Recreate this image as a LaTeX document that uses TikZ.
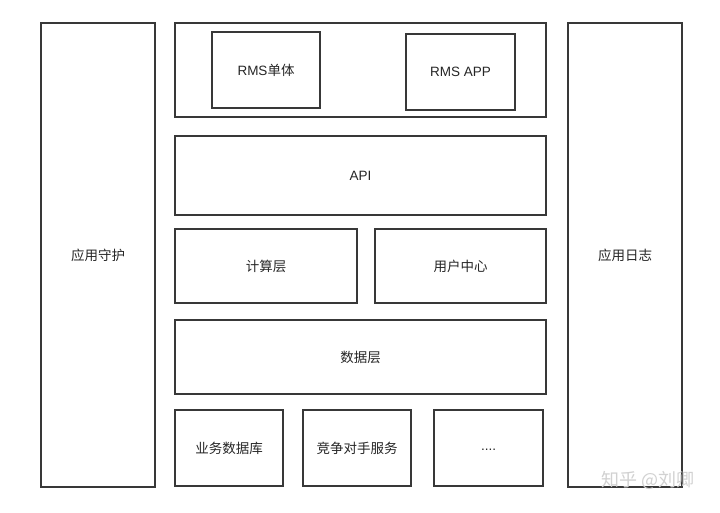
\documentclass[tikz,border=0pt]{standalone}
\usepackage{fontspec}
\setmainfont{Liberation Sans}
\newfontfamily\cjk{Noto Sans CJK SC}
\begin{document}
\begin{tikzpicture}[x=1pt,y=-1pt,
  blk/.style={draw=black!78, line width=1.8pt, font=\fontsize{13.5}{15}\selectfont, text=black!85},
  every node/.style={inner sep=0pt}]
\useasboundingbox (0,0) rectangle (720,512);
\fill[white] (0,0) rectangle (720,512);
\newcommand{\bx}[6]{\draw[blk] (#2,#3) rectangle (#4,#5) node[midway] (#1) {#6};}
\bx{guard}{41}{23}{155}{487}{\cjk 应用守护}
\bx{top}{175}{23}{546}{117}{}
\bx{rmsa}{212}{32}{320}{108}{RMS{\cjk 单体}}
\bx{rmsb}{406}{34}{515}{110}{RMS APP}
\bx{api}{175}{136}{546}{215}{API}
\bx{calc}{175}{229}{357}{303}{\cjk 计算层}
\bx{user}{375}{229}{546}{303}{\cjk 用户中心}
\bx{data}{175}{320}{546}{394}{\cjk 数据层}
\bx{biz}{175}{410}{283}{486}{\cjk 业务数据库}
\bx{comp}{303}{410}{411}{486}{\cjk 竞争对手服务}
\bx{more}{434}{410}{543}{486}{\raisebox{-4pt}{....}}
\bx{log}{568}{23}{682}{487}{\cjk 应用日志}
\node[font=\cjk\fontsize{18}{20}\selectfont, text=black!18] (wm) at (648,480) {知乎 @刘卿};
\end{tikzpicture}
\end{document}
